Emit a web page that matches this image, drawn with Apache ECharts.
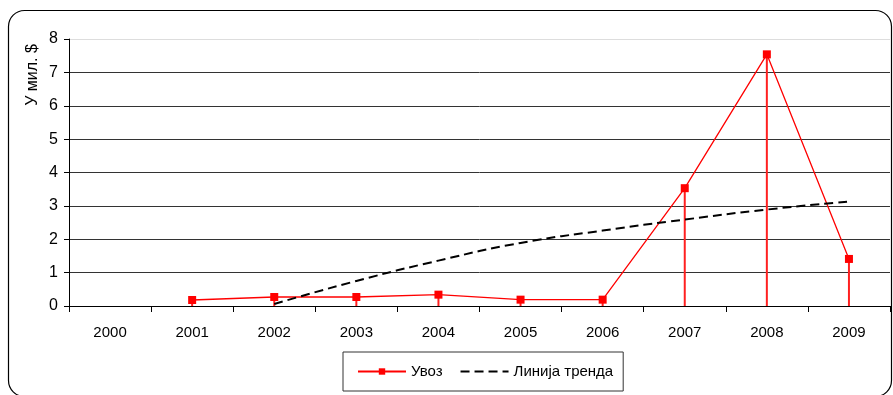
<!DOCTYPE html>
<html><head><meta charset="utf-8">
<script src="https://cdn.jsdelivr.net/npm/echarts@6/dist/echarts.min.js"></script>
<style>html,body{margin:0;padding:0;background:#fff}#c{width:893px;height:395px}</style>
</head><body><div id="c"></div>
<script>
const categories = ['2000','2001','2002','2003','2004','2005','2006','2007','2008','2009'];
const importValues = [null, 0.18, 0.27, 0.27, 0.34, 0.19, 0.19, 3.53, 7.54, 1.41];
const trendValues = [null, null, 0.06, 0.75, 1.36, 1.89, 2.26, 2.59, 2.89, 3.13];
const yTicks = [0,1,2,3,4,5,6,7,8];
const seriesNames = ['Увоз', 'Линија тренда'];
const yTitle = 'У мил. $';

const font = 'Liberation Sans, Arial, sans-serif';
const chart = echarts.init(document.getElementById('c'));
chart.setOption({
  animation: false,
  textStyle: {fontFamily: font},
  grid: {left: 69, right: 3, top: 39, bottom: 89},
  graphic: [
    {type: 'rect', shape: {x: 8.5, y: 10.5, width: 883, height: 386, r: 16},
     style: {fill: 'none', stroke: '#000', lineWidth: 1.2}, z: -1},
    {type: 'text', x: 33, y: 75, rotation: Math.PI/2,
     style: {text: yTitle, font: '16px ' + font, fill: '#000', align: 'center', verticalAlign: 'middle'}}
  ],
  legend: {
    show: true,
    left: 343, top: 352,
    padding: [12, 10, 12, 14],
    borderColor: '#333', borderWidth: 1,
    itemWidth: 48, itemHeight: 8, itemGap: 17,
    textStyle: {fontFamily: font, fontSize: 15, color: '#000'},
    data: [
      {name: seriesNames[0]},
      {name: seriesNames[1], itemStyle: {color: 'rgba(0,0,0,0)', borderWidth: 0, opacity: 0}}
    ]
  },
  xAxis: {
    type: 'category', data: categories, boundaryGap: true,
    axisLine: {lineStyle: {color: '#000', width: 1}},
    axisTick: {show: true, length: 6, lineStyle: {color: '#000'}},
    axisLabel: {color: '#000', fontSize: 15, margin: 19, fontFamily: font},
    splitLine: {show: false}
  },
  yAxis: {
    type: 'value', min: yTicks[0], max: yTicks[yTicks.length-1], interval: 1,
    axisLine: {show: true, lineStyle: {color: '#000', width: 1}},
    axisTick: {show: true, length: 5, lineStyle: {color: '#000'}},
    axisLabel: {color: '#000', fontSize: 16, margin: 11, fontFamily: font},
    splitLine: {show: true, lineStyle: {color: ['#333','#333','#333','#333','#333','#333','#333','#333','#ddd'], width: 1}}
  },
  series: [
    {
      name: seriesNames[0], type: 'line', data: importValues,
      symbol: 'rect', symbolSize: 8, showAllSymbol: true,
      itemStyle: {color: '#ff0000'},
      lineStyle: {color: '#ff0000', width: 1.3},
      z: 3
    },
    {
      name: 'drop', type: 'bar', data: importValues,
      barWidth: 2, itemStyle: {color: '#ff2020'}, silent: true, z: 2
    },
    {
      name: seriesNames[1], type: 'line', data: trendValues, smooth: true,
      symbol: 'none', itemStyle: {color: '#000'},
      lineStyle: {color: '#000', width: 2, type: [9, 5]},
      z: 4
    }
  ]
});
</script></body></html>
